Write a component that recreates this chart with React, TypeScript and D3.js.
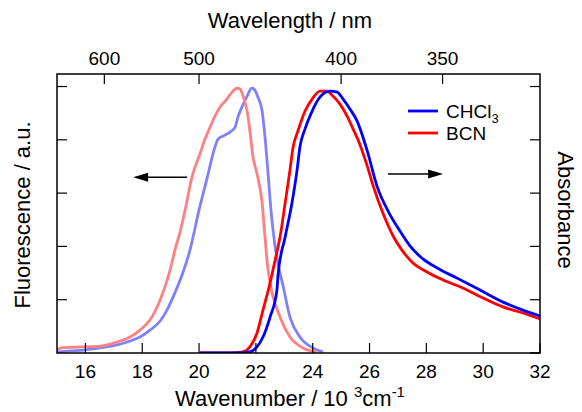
import React from "react";
import * as d3 from "d3";

// Fluorescence (left axis), wavenumber in 10^3 cm^-1, normalized intensity
const fluorCHCl3W = [15.0, 15.46, 15.92, 16.51, 17.11, 17.57, 17.92, 18.27, 18.63, 18.87, 19.19, 19.44, 19.68, 20.0, 20.32, 20.49, 20.67, 20.84, 21.09, 21.27, 21.37, 21.51, 21.69, 21.86, 21.93, 22.07, 22.22, 22.32, 22.43, 22.53, 22.67, 22.81, 22.95, 23.2, 23.55, 24.01, 24.36];
const fluorCHCl3V = [0.004, 0.008, 0.011, 0.019, 0.03, 0.045, 0.06, 0.086, 0.12, 0.161, 0.236, 0.304, 0.386, 0.537, 0.672, 0.747, 0.803, 0.814, 0.829, 0.848, 0.886, 0.923, 0.964, 0.994, 0.991, 0.961, 0.908, 0.811, 0.672, 0.537, 0.405, 0.319, 0.255, 0.135, 0.06, 0.019, 0.004];

const fluorBCNW = [15.0, 15.2, 15.92, 16.51, 17.11, 17.57, 17.92, 18.27, 18.63, 18.98, 19.15, 19.33, 19.51, 19.75, 20.03, 20.21, 20.39, 20.56, 20.74, 20.98, 21.16, 21.34, 21.44, 21.55, 21.69, 21.79, 21.9, 22.04, 22.22, 22.32, 22.43, 22.5, 22.85, 23.2, 23.66, 24.15];
const fluorBCNV = [0.012, 0.02, 0.023, 0.026, 0.041, 0.06, 0.086, 0.124, 0.199, 0.311, 0.386, 0.454, 0.537, 0.66, 0.747, 0.803, 0.848, 0.889, 0.923, 0.953, 0.979, 0.994, 0.991, 0.964, 0.908, 0.833, 0.735, 0.672, 0.563, 0.435, 0.311, 0.263, 0.135, 0.06, 0.019, 0.004];

// Absorbance (right axis)
const absCHCl3W = [20.03, 21.44, 21.79, 22.04, 22.25, 22.5, 22.74, 22.78, 23.03, 23.27, 23.45, 23.55, 23.73, 23.98, 24.26, 24.61, 24.86, 25.07, 25.31, 25.56, 25.91, 26.26, 26.69, 27.07, 27.43, 27.88, 28.38, 29.08, 29.89, 30.7, 31.4, 32.0];
const absCHCl3V = [0, 0, 0.004, 0.023, 0.06, 0.135, 0.236, 0.293, 0.435, 0.563, 0.687, 0.773, 0.841, 0.908, 0.961, 0.983, 0.979, 0.953, 0.916, 0.871, 0.762, 0.627, 0.525, 0.458, 0.401, 0.353, 0.319, 0.281, 0.236, 0.191, 0.161, 0.139];

const absBCNW = [20.03, 21.09, 21.55, 21.79, 22.04, 22.25, 22.5, 22.6, 22.74, 22.85, 23.03, 23.2, 23.31, 23.48, 23.73, 23.98, 24.26, 24.5, 24.71, 24.96, 25.21, 25.42, 25.67, 25.91, 26.12, 26.47, 26.83, 27.14, 27.5, 28.02, 28.59, 29.29, 30.0, 30.7, 31.4, 32.0];
const absBCNV = [0, 0, 0.004, 0.023, 0.075, 0.161, 0.263, 0.311, 0.379, 0.435, 0.563, 0.687, 0.773, 0.833, 0.908, 0.953, 0.983, 0.983, 0.964, 0.934, 0.889, 0.841, 0.78, 0.705, 0.63, 0.525, 0.439, 0.386, 0.341, 0.304, 0.274, 0.244, 0.206, 0.173, 0.15, 0.128];

const bottomTicks = [16, 18, 20, 22, 24, 26, 28, 30, 32];
const topTicksNm = [600, 500, 400, 350];
const yTicks = [0.2, 0.4, 0.6, 0.8, 1.0];
const legendNames = ["CHCl", "BCN"];

const W = 582, H = 412;
const M = { left: 57, right: 540, top: 74, bottom: 353 };
const FONT = "'Liberation Sans', Arial, Helvetica, sans-serif";

export default function App() {
  const x = d3.scaleLinear().domain([15, 32]).range([M.left, M.right]);
  const y = d3.scaleLinear().domain([0, 1.047]).range([M.bottom, M.top]);
  const line = d3.line<[number, number]>().x(d => x(d[0])).y(d => y(d[1])).curve(d3.curveMonotoneX);
  const zip = (a: number[], b: number[]) => a.map((v, i) => [v, b[i]] as [number, number]);

  const series = [
    { d: zip(fluorCHCl3W, fluorCHCl3V), c: "#8080ff" },
    { d: zip(fluorBCNW, fluorBCNV), c: "#ff8080" },
    { d: zip(absBCNW, absBCNV), c: "#ff0000" },
    { d: zip(absCHCl3W, absCHCl3V), c: "#0000ff" },
  ];
  const tl = 10;
  const leftArrow = { x1: x(19.58), x2: x(17.68), y: y(0.66) };
  const rightArrow = { x1: x(26.65), x2: x(28.59), y: y(0.672) };

  return (
    <svg width={W} height={H} style={{ position: "absolute", left: 0, top: 0, background: "#fff" }} fontFamily={FONT}>
      <defs>
        <clipPath id="clip"><rect x={M.left} y={M.top} width={M.right - M.left} height={M.bottom - M.top} /></clipPath>
      </defs>
      <g clipPath="url(#clip)">
        {series.map((s, i) => (
          <path key={i} d={line(s.d) || ""} fill="none" stroke={s.c} strokeWidth={2.8} strokeLinejoin="round" />
        ))}
      </g>
      {/* arrows */}
      <line x1={leftArrow.x1} x2={leftArrow.x2 + 12} y1={leftArrow.y} y2={leftArrow.y} stroke="#000" strokeWidth={1.5} />
      <path d={`M${leftArrow.x2},${leftArrow.y} l15,-4.5 l0,9 z`} fill="#000" />
      <line x1={rightArrow.x1} x2={rightArrow.x2 - 12} y1={rightArrow.y} y2={rightArrow.y} stroke="#000" strokeWidth={1.5} />
      <path d={`M${rightArrow.x2},${rightArrow.y} l-15,-4.5 l0,9 z`} fill="#000" />
      {/* frame */}
      <rect x={M.left} y={M.top} width={M.right - M.left} height={M.bottom - M.top} fill="none" stroke="#000" strokeWidth={1.5} />
      {/* bottom ticks */}
      {bottomTicks.map(t => (
        <g key={"b" + t}>
          <line x1={x(t)} x2={x(t)} y1={M.bottom} y2={M.bottom - tl} stroke="#000" strokeWidth={1.2} />
          <text x={x(t)} y={378} textAnchor="middle" fontSize={19}>{t}</text>
        </g>
      ))}
      {/* top ticks */}
      {topTicksNm.map(t => (
        <g key={"t" + t}>
          <line x1={x(1e4 / t)} x2={x(1e4 / t)} y1={M.top} y2={M.top + tl} stroke="#000" strokeWidth={1.2} />
          <text x={x(1e4 / t)} y={65} textAnchor="middle" fontSize={19}>{t}</text>
        </g>
      ))}
      {/* left & right ticks */}
      {yTicks.map(t => (
        <g key={"y" + t}>
          <line x1={M.left} x2={M.left + tl} y1={y(t)} y2={y(t)} stroke="#000" strokeWidth={1.2} />
          <line x1={M.right} x2={M.right - tl} y1={y(t)} y2={y(t)} stroke="#000" strokeWidth={1.2} />
        </g>
      ))}
      <line x1={M.right} x2={M.right - tl} y1={M.bottom} y2={M.bottom} stroke="#000" strokeWidth={1.5} />
      {/* legend */}
      <line x1={408} x2={438} y1={111} y2={111} stroke="#0000ff" strokeWidth={2.8} />
      <line x1={408} x2={438} y1={133} y2={133} stroke="#ff0000" strokeWidth={2.8} />
      <text x={446} y={118} fontSize={19}>{legendNames[0]}<tspan fontSize={13} dy={5}>3</tspan></text>
      <text x={446} y={140} fontSize={19}>{legendNames[1]}</text>
      {/* titles */}
      <text x={290} y={28} textAnchor="middle" fontSize={22}>Wavelength / nm</text>
      <text x={290} y={406} textAnchor="middle" fontSize={22}>
        Wavenumber / 10 <tspan fontSize={15} dy={-9}>3</tspan><tspan dy={9}>cm</tspan><tspan fontSize={15} dy={-9}>-1</tspan>
      </text>
      <text transform={`translate(30,215) rotate(-90)`} textAnchor="middle" fontSize={22}>Fluorescence / a.u.</text>
      <text transform={`translate(558,210) rotate(90)`} textAnchor="middle" fontSize={22}>Absorbance</text>
    </svg>
  );
}
